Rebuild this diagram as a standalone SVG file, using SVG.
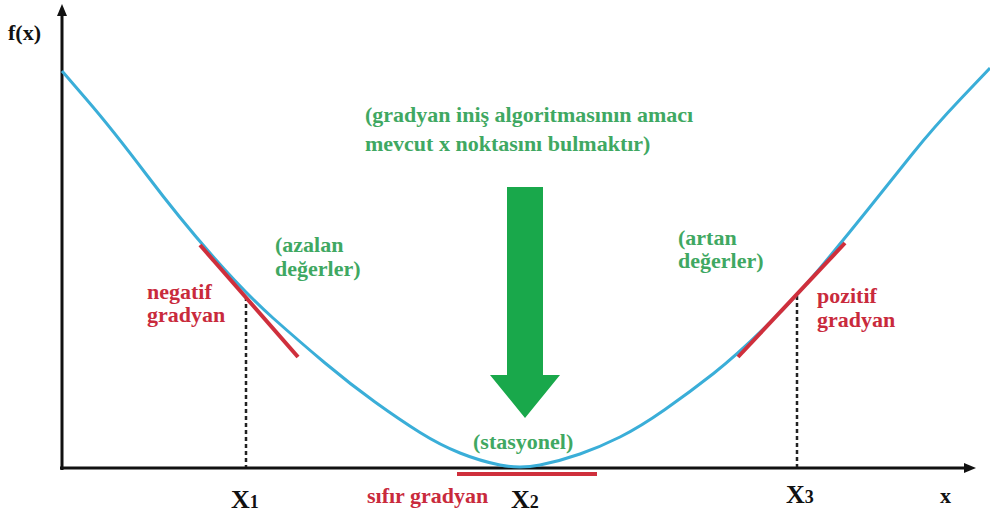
<svg xmlns="http://www.w3.org/2000/svg" width="990" height="515" viewBox="0 0 990 515">
<style>
text{font-family:'Liberation Serif','DejaVu Serif','Times New Roman',serif;font-weight:700;font-size:22px}
.g{fill:#3fa862}
.r{fill:#c92a3c}
.k{fill:#111}
.big{font-size:26px}
.sub{font-size:18px}
.axis{stroke:#111;stroke-width:3;fill:none}
.dot{stroke:#222;stroke-width:2.5;stroke-dasharray:4 3;fill:none}
.tan{stroke:#cf2f3c;stroke-width:4;stroke-linecap:butt;fill:none}
</style>
<rect width="990" height="515" fill="#fff"/>
<g id="connectors">
<line class="axis" x1="62" y1="470" x2="62" y2="14"/>
<polygon points="62,4 57,16 67,16" fill="#111"/>
<line class="axis" x1="60" y1="468" x2="966" y2="468"/>
<polygon points="976,468 964,463 964,473" fill="#111"/>
<line class="dot" x1="246" y1="297" x2="246" y2="467"/>
<line class="dot" x1="797" y1="296" x2="797" y2="467"/>
</g>
<g id="curve">
<path d="M62,71 L87,100 Q112,129 146,174 Q180,219 213,256.5 Q246,294 273,318 Q300,342 325,363 Q350,384 375,402 Q400,420 420,432.5 Q440,445 460,453 Q480,461 500,465 Q520,469 540,465 Q560,461 580,454 Q600,447 620,437 Q640,427 665,409.5 Q690,392 713.5,373.5 Q737,355 767,325.5 Q797,296 821,267 Q845,238 867.5,210 Q890,182 911.5,155 Q933,128 961.5,98 L990,68" fill="none" stroke="#3aaed8" stroke-width="3"/>
</g>
<g id="tangent-negative">
<line class="tan" x1="200" y1="245" x2="298" y2="357"/>
</g>
<g id="tangent-positive">
<line class="tan" x1="738" y1="357" x2="845" y2="243"/>
</g>
<g id="tangent-zero">
<line class="tan" x1="457" y1="474" x2="597" y2="474"/>
</g>
<g id="descent-arrow">
<polygon points="507,187 543,187 543,375 560,375 525,418 490,375 507,375" fill="#19a84b"/>
</g>
<g id="labels">
<text class="k" x="8" y="40">f(x)</text>
<text class="g" x="365" y="122">(gradyan iniş algoritmasının amacı</text>
<text class="g" x="365" y="151">mevcut x noktasını bulmaktır)</text>
<text class="g" x="275" y="252">(azalan</text>
<text class="g" x="275" y="276">değerler)</text>
<text class="r" x="147" y="299">negatif</text>
<text class="r" x="147" y="322">gradyan</text>
<text class="g" x="678" y="245">(artan</text>
<text class="g" x="678" y="268">değerler)</text>
<text class="r" x="817" y="303">pozitif</text>
<text class="r" x="817" y="327">gradyan</text>
<text class="g" x="473" y="449">(stasyonel)</text>
<text class="r" x="367" y="503">sıfır gradyan</text>
<text class="k big" x="231" y="508">X<tspan class="sub">1</tspan></text>
<text class="k big" x="511" y="508">X<tspan class="sub">2</tspan></text>
<text class="k big" x="786" y="503">X<tspan class="sub">3</tspan></text>
<text class="k" x="940" y="503">x</text>
</g>
</svg>
